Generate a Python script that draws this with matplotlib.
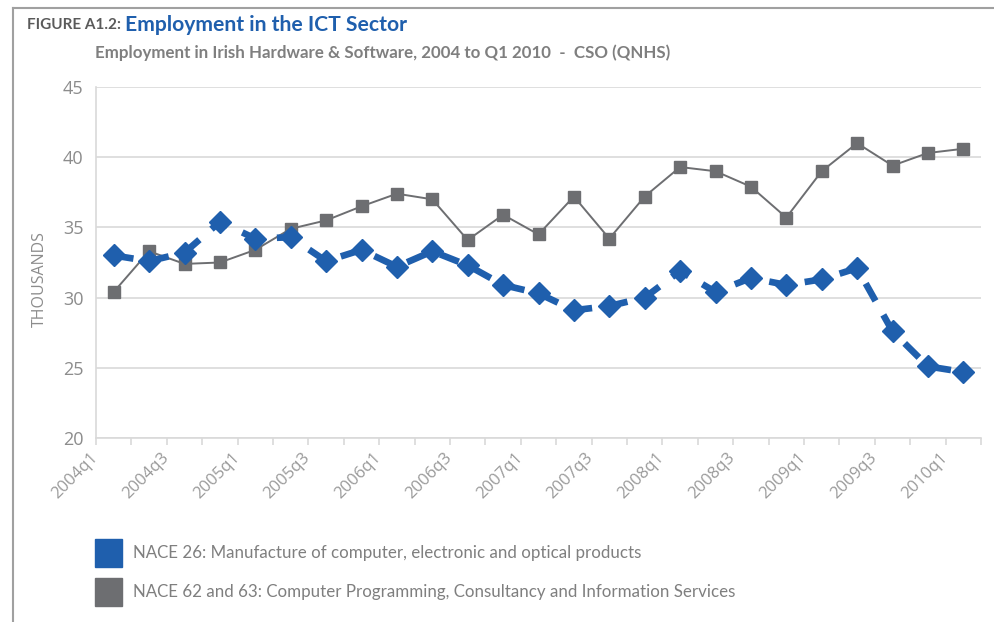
import numpy as np
import matplotlib.pyplot as plt
from matplotlib.patches import Rectangle
from matplotlib.lines import Line2D
import matplotlib.transforms as mtransforms

plt.rcParams["font.family"] = ["Lato", "DejaVu Sans"]

quarters = [
    "2004q1", "2004q2", "2004q3", "2004q4",
    "2005q1", "2005q2", "2005q3", "2005q4",
    "2006q1", "2006q2", "2006q3", "2006q4",
    "2007q1", "2007q2", "2007q3", "2007q4",
    "2008q1", "2008q2", "2008q3", "2008q4",
    "2009q1", "2009q2", "2009q3", "2009q4",
    "2010q1",
]

# NACE 26 - hardware manufacturing (thousands)
nace26 = [
    33.0, 32.6, 33.2, 35.4,
    34.2, 34.3, 32.6, 33.4,
    32.2, 33.3, 32.3, 30.9,
    30.3, 29.1, 29.4, 30.0,
    31.9, 30.4, 31.4, 30.9,
    31.3, 32.1, 27.6, 25.1,
    24.7,
]

# NACE 62 and 63 - software & services (thousands)
nace6263 = [
    30.4, 33.3, 32.4, 32.5,
    33.4, 34.9, 35.5, 36.5,
    37.4, 37.0, 34.1, 35.9,
    34.5, 37.2, 34.2, 37.2,
    39.3, 39.0, 37.9, 35.7,
    39.0, 41.0, 39.4, 40.3,
    40.6,
]

legend_labels = [
    "NACE 26: Manufacture of computer, electronic and optical products",
    "NACE 62 and 63: Computer Programming, Consultancy and Information Services",
]

BLUE = "#1f5fad"
GREY = "#6d6e71"
LIGHT = "#8c8c8c"
GRID = "#d9d9d9"
SANS = ["Open Sans", "DejaVu Sans"]

fig = plt.figure(figsize=(9.94, 6.22), dpi=100)
W, H = 994, 622


def px(x, y):
    return x / W, 1 - y / H


# outer frame
fig.add_artist(Line2D([13 / W, 1], [1 - 7.5 / H] * 2, color="#a0a0a0", lw=1.5))
fig.add_artist(Line2D([13 / W] * 2, [0, 1 - 7.5 / H], color="#a0a0a0", lw=1.5))

ax = fig.add_axes([96 / W, 1 - 438 / H, (981 - 96) / W, (438 - 87) / H])

x = np.arange(len(quarters))
ax.plot(x, nace6263, color=GREY, lw=1.4, marker="s", ms=8.5, zorder=3)
ax.plot(x, nace26, color=BLUE, lw=4.8, ls=(0, (3.0, 2.4)), marker="D",
        ms=11, zorder=4)

ax.set_xlim(-0.5, len(quarters) - 0.5)
ax.set_ylim(20, 45)
ax.set_yticks(range(20, 46, 5))
ax.grid(axis="y", color=GRID, lw=1.2)
ax.set_axisbelow(True)

for s in ["top", "right"]:
    ax.spines[s].set_visible(False)
for s in ["left", "bottom"]:
    ax.spines[s].set_color(GRID)
    ax.spines[s].set_linewidth(1.2)

# tick marks sit between categories, labels on every other quarter
ax.set_xticks(np.arange(-0.5, len(quarters), 1), minor=True)
ax.tick_params(axis="x", which="minor", length=5, width=1.2, color=GRID)
ax.set_xticks(x[::2])
ax.set_xticklabels(quarters[::2], rotation=45, ha="right",
                   rotation_mode="anchor", fontsize=12, color="#9a9a9a",
                   family=SANS)
ax.tick_params(axis="x", which="major", length=0, pad=2)
offset = mtransforms.ScaledTranslation(-24 / 100, -9 / 100, fig.dpi_scale_trans)
for lab in ax.get_xticklabels():
    lab.set_transform(lab.get_transform() + offset)

ax.tick_params(axis="y", length=0, pad=9, labelsize=13, labelcolor=LIGHT)
for lab in ax.get_yticklabels():
    lab.set_family(SANS)

fig.text(*px(40, 279), "THOUSANDS", rotation=90, ha="center", va="center",
         fontsize=11.5, color=LIGHT, family=SANS)

# title block
t1 = fig.text(*px(27, 25), "FIGURE A1.2:", fontsize=11, fontweight="bold",
              color="#5a5a5a", va="center")
fig.canvas.draw()
bb = t1.get_window_extent()
fig.text((bb.x1 + 4) / W, 1 - 25 / H, "Employment in the ICT Sector",
         fontsize=15.2, fontweight="bold", color=BLUE, va="center")
fig.text(*px(95, 53), "Employment in Irish Hardware & Software, 2004 to Q1 2010  -  CSO (QNHS)",
         fontsize=12.2, fontweight="bold", color="#7f7f7f", va="center")

# legend
for i, (lab, col) in enumerate(zip(legend_labels, [BLUE, GREY])):
    yc = 553 + 39 * i
    fig.add_artist(Rectangle(px(95, yc + 14), 27 / W, 28 / H, color=col,
                             transform=fig.transFigure))
    fig.text(*px(133, yc), lab, fontsize=12.15, color="#7f7f7f", va="center")

fig.savefig("out.png", dpi=100)
